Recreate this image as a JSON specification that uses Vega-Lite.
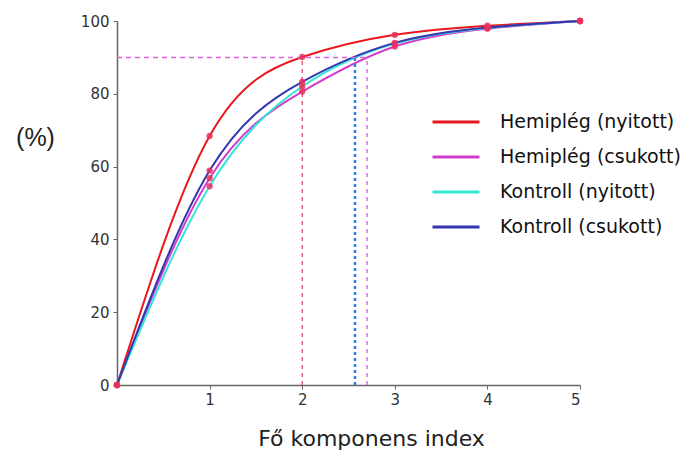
{
  "$schema": "https://vega.github.io/schema/vega-lite/v6.json",
  "width": 463,
  "height": 364,
  "autosize": "none",
  "padding": {"left": 117, "top": 21, "right": 111, "bottom": 65},
  "background": "white",
  "config": {
    "view": {"stroke": null},
    "axis": {
      "grid": false,
      "domainColor": "#666666",
      "domainWidth": 1.5,
      "tickColor": "#666666",
      "tickSize": 4,
      "labelFont": "DejaVu Sans",
      "labelFontSize": 15,
      "labelColor": "#333333",
      "titleFont": "DejaVu Sans",
      "titleFontWeight": "normal",
      "titleColor": "#222222"
    }
  },
  "datasets": {
    "curves": [
      {"index": 0, "pct": 0, "group": "Hemiplég (nyitott)"},
      {"index": 1, "pct": 68.4, "group": "Hemiplég (nyitott)"},
      {"index": 2, "pct": 90.1, "group": "Hemiplég (nyitott)"},
      {"index": 3, "pct": 96.2, "group": "Hemiplég (nyitott)"},
      {"index": 4, "pct": 98.7, "group": "Hemiplég (nyitott)"},
      {"index": 5, "pct": 100, "group": "Hemiplég (nyitott)"},
      {"index": 0, "pct": 0, "group": "Hemiplég (csukott)"},
      {"index": 1, "pct": 56.8, "group": "Hemiplég (csukott)"},
      {"index": 2, "pct": 80.6, "group": "Hemiplég (csukott)"},
      {"index": 3, "pct": 93.0, "group": "Hemiplég (csukott)"},
      {"index": 4, "pct": 97.9, "group": "Hemiplég (csukott)"},
      {"index": 5, "pct": 100, "group": "Hemiplég (csukott)"},
      {"index": 0, "pct": 0, "group": "Kontroll (nyitott)"},
      {"index": 1, "pct": 54.6, "group": "Kontroll (nyitott)"},
      {"index": 2, "pct": 82.0, "group": "Kontroll (nyitott)"},
      {"index": 3, "pct": 93.8, "group": "Kontroll (nyitott)"},
      {"index": 4, "pct": 98.1, "group": "Kontroll (nyitott)"},
      {"index": 5, "pct": 100, "group": "Kontroll (nyitott)"},
      {"index": 0, "pct": 0, "group": "Kontroll (csukott)"},
      {"index": 1, "pct": 58.9, "group": "Kontroll (csukott)"},
      {"index": 2, "pct": 83.3, "group": "Kontroll (csukott)"},
      {"index": 3, "pct": 94.0, "group": "Kontroll (csukott)"},
      {"index": 4, "pct": 98.2, "group": "Kontroll (csukott)"},
      {"index": 5, "pct": 100, "group": "Kontroll (csukott)"}
    ]
  },
  "layer": [
    {
      "data": {"name": "curves"},
      "mark": {"type": "line", "interpolate": "natural", "strokeWidth": 2},
      "encoding": {
        "x": {
          "field": "index",
          "type": "quantitative",
          "scale": {"domain": [0, 5], "nice": false, "zero": false},
          "axis": {
            "values": [1, 2, 3, 4, 5],
            "format": "d",
            "title": "Fő komponens index",
            "titleFontSize": 22,
            "titleAlign": "center",
            "titleBaseline": "middle",
            "titleX": 254,
            "titleY": 53,
            "labelPadding": 3
          }
        },
        "y": {
          "field": "pct",
          "type": "quantitative",
          "scale": {"domain": [0, 100], "nice": false},
          "axis": {
            "values": [0, 20, 40, 60, 80, 100],
            "title": "(%)",
            "titleFont": "Liberation Sans",
            "titleFontSize": 25,
            "titleAngle": 0,
            "titleAlign": "center",
            "titleBaseline": "middle",
            "titleX": -82,
            "titleY": 116,
            "labelPadding": 4
          }
        },
        "color": {
          "field": "group",
          "type": "nominal",
          "scale": {
            "domain": ["Hemiplég (nyitott)", "Hemiplég (csukott)", "Kontroll (nyitott)", "Kontroll (csukott)"],
            "range": ["#e8191e", "#d23ccc", "#33e6d8", "#3535b0"]
          },
          "legend": {
            "title": null,
            "orient": "none",
            "legendX": 314,
            "legendY": 76,
            "symbolType": "stroke",
            "symbolSize": 2209,
            "symbolStrokeWidth": 3,
            "labelFont": "DejaVu Sans",
            "labelFontSize": 19,
            "labelColor": "#111111",
            "labelOffset": 19,
            "labelLimit": 0,
            "rowPadding": 0
          }
        }
      }
    },
    {
      "data": {"values": [{"index": 0, "end": 2.7, "pct": 90}]},
      "mark": {"type": "rule", "color": "#e060e0", "strokeWidth": 1.5, "strokeDash": [5, 4]},
      "encoding": {
        "x": {"field": "index", "type": "quantitative"},
        "x2": {"field": "end"},
        "y": {"field": "pct", "type": "quantitative"}
      }
    },
    {
      "data": {"values": [{"index": 2, "pct": 0, "top": 90}]},
      "mark": {"type": "rule", "color": "#e04a6a", "strokeWidth": 1.3, "strokeDash": [4, 4]},
      "encoding": {
        "x": {"field": "index", "type": "quantitative"},
        "y": {"field": "pct", "type": "quantitative"},
        "y2": {"field": "top"}
      }
    },
    {
      "data": {"values": [{"index": 2.57, "pct": 0, "top": 90}]},
      "mark": {"type": "rule", "color": "#2f80dc", "strokeWidth": 2.5, "strokeDash": [3, 3]},
      "encoding": {
        "x": {"field": "index", "type": "quantitative"},
        "y": {"field": "pct", "type": "quantitative"},
        "y2": {"field": "top"}
      }
    },
    {
      "data": {"values": [{"index": 2.7, "pct": 0, "top": 90}]},
      "mark": {"type": "rule", "color": "#d060d0", "strokeWidth": 1.3, "strokeDash": [4, 4]},
      "encoding": {
        "x": {"field": "index", "type": "quantitative"},
        "y": {"field": "pct", "type": "quantitative"},
        "y2": {"field": "top"}
      }
    },
    {
      "data": {"name": "curves"},
      "mark": {"type": "point", "shape": "circle", "filled": true, "size": 40, "color": "#e8305e", "opacity": 0.85},
      "encoding": {
        "x": {"field": "index", "type": "quantitative"},
        "y": {"field": "pct", "type": "quantitative"}
      }
    }
  ]
}
